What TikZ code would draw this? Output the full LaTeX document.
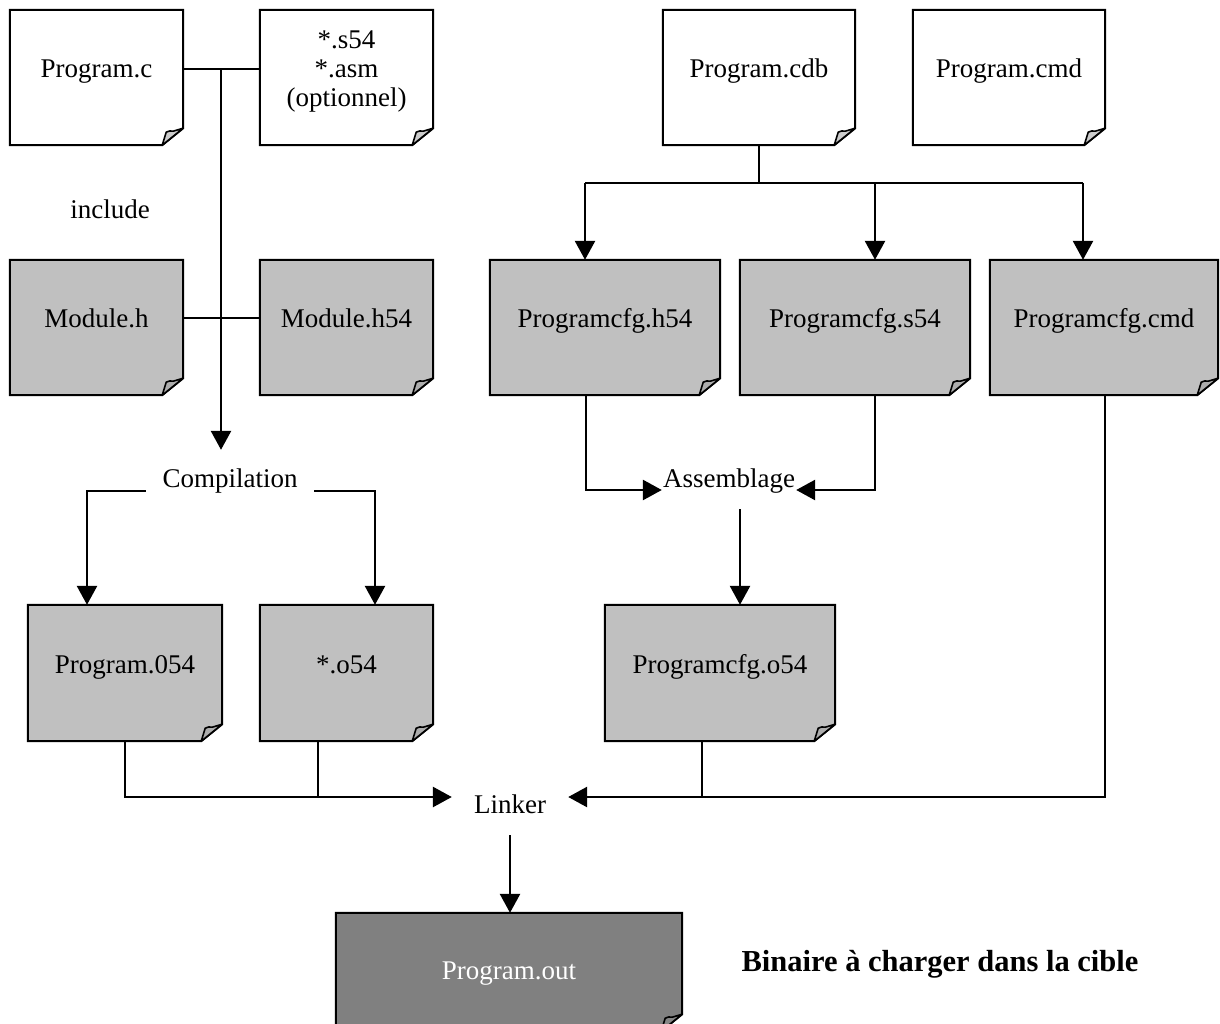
\documentclass[tikz,border=0pt]{standalone}
\usepackage{fontspec}
\setmainfont{Liberation Serif}
\usetikzlibrary{arrows.meta,calc}
\pgfdeclarelayer{bg}
\pgfsetlayers{bg,main}
\definecolor{pagegray}{HTML}{C0C0C0}
\definecolor{outgray}{HTML}{808080}

\tikzset{
  txt/.style={font=\fontsize{27}{29}\selectfont},
  doc/.style={txt, inner sep=0pt, minimum height=135pt, minimum width=173pt,
              text height=0pt, text depth=0pt},
  tag/.style={txt, inner ysep=0pt, text height=0pt},
  wire/.style={line width=2.7pt},
  arr/.style={wire, -{Triangle[length=19pt,width=20pt]}},
}

% dog-eared sheet behind a doc node: #1 node name, #2 fill colour, #3 curl colour
\newcommand\sheet[3]{%
  \begin{pgfonlayer}{bg}
    \path[fill=#2, draw=black, line width=2pt]
      (#1.north west) -- (#1.north east) -- ($(#1.south east)+(0,-17)$)
      -- ($(#1.south east)+(-21,0)$) -- (#1.south west) -- cycle;
    \begin{scope}[shift={(#1.south east)}]
      \path[fill=#3, draw=black, line width=1.6pt, line join=round]
        (-21,0) -- (-17,-13) .. controls (-15,-15) and (-12,-14) .. (-10,-14)
        -- (0,-17) -- cycle;
    \end{scope}
  \end{pgfonlayer}}

\begin{document}
\begin{tikzpicture}[x=1pt, y=-1pt]
\useasboundingbox (0,0) rectangle (1220,1024);
\begin{pgfonlayer}{bg}
  \fill[white] (0,0) rectangle (1220,1024);
\end{pgfonlayer}

% sources
\node[doc] (progc) at (96.5,77.5) {Program.c};
\node[doc] (asmsrc) at (346.5,77.5)
  {\begin{tabular}{@{}c@{}}{*}.s54\\{*}.asm\\(optionnel)\end{tabular}};
\node[doc, minimum width=192pt] (cdb) at (759,77.5) {Program.cdb};
\node[doc, minimum width=192pt] (cmd) at (1009,77.5) {Program.cmd};

% headers and generated configuration files
\node[doc] (modh) at (96.5,327.5) {Module.h};
\node[doc] (modh54) at (346.5,327.5) {Module.h54};
\node[doc, minimum width=230pt] (cfgh) at (605,327.5) {Programcfg.h54};
\node[doc, minimum width=230pt] (cfgs) at (855,327.5) {Programcfg.s54};
\node[doc, minimum width=228pt] (cfgcmd) at (1104,327.5) {Programcfg.cmd};

% object files
\node[doc, minimum width=194pt, minimum height=136pt] (pobj) at (125,673) {Program.054};
\node[doc, minimum height=136pt] (obj) at (346.5,673) {*.o54};
\node[doc, minimum width=230pt, minimum height=136pt] (cfgobj) at (720,673) {Programcfg.o54};

% executable
\node[doc, minimum width=346pt, minimum height=118pt, text height=14pt, text=white]
  (out) at (509,972) {Program.out};

\sheet{progc}{white}{black!20}
\sheet{asmsrc}{white}{black!20}
\sheet{cdb}{white}{black!20}
\sheet{cmd}{white}{black!20}
\sheet{modh}{pagegray}{pagegray!90!black}
\sheet{modh54}{pagegray}{pagegray!90!black}
\sheet{cfgh}{pagegray}{pagegray!90!black}
\sheet{cfgs}{pagegray}{pagegray!90!black}
\sheet{cfgcmd}{pagegray}{pagegray!90!black}
\sheet{pobj}{pagegray}{pagegray!90!black}
\sheet{obj}{pagegray}{pagegray!90!black}
\sheet{cfgobj}{pagegray}{pagegray!90!black}
\sheet{out}{outgray}{outgray!95!white}

% step labels
\node[tag, text depth=0pt] (incl) at (110,219) {include};
\node[tag, text depth=8pt, inner xsep=16.5pt, inner ysep=37pt] (comp) at (230,491) {Compilation};
\node[tag, text depth=6pt, inner xsep=1pt, inner ysep=16pt] (asm) at (729,490) {Assemblage};
\node[tag, text height=32pt, text depth=0pt, inner xsep=22pt, inner ysep=22pt] (lnk) at (510,797) {Linker};

\node[font=\fontsize{30.5}{35}\selectfont\bfseries, inner sep=0pt, text height=0pt, text depth=0pt]
  (note) at (940,971) {Binaire à charger dans la cible};

% compilation inputs
\coordinate (jc) at (221,69);
\coordinate (jh) at (221,318);
\draw[wire] (progc.east |- jc) -- (asmsrc.west |- jc);
\draw[wire] (modh.east |- jh) -- (modh54.west |- jh);
\draw[arr] (jc) -- (jc |- comp.north);

% compilation outputs
\coordinate (cl) at (87,0);
\coordinate (cr) at (375,0);
\draw[arr] (comp.west) -| (cl |- pobj.north);
\draw[arr] (comp.east) -| (cr |- obj.north);

% configuration tool outputs
\coordinate (tl) at (585,183);
\coordinate (tm) at (875,183);
\coordinate (tr) at (1083,183);
\draw[wire] (cdb.south) -- (cdb.south |- tl);
\draw[wire] (tl) -- (tr);
\draw[arr] (tl) -- (tl |- cfgh.north);
\draw[arr] (tm) -- (tm |- cfgs.north);
\draw[arr] (tr) -- (tr |- cfgcmd.north);

% assembly
\coordinate (ah) at (586,0);
\coordinate (as) at (875,0);
\coordinate (ao) at (740,0);
\draw[arr] (ah |- cfgh.south) |- (asm.west);
\draw[arr] (as |- cfgs.south) |- (asm.east);
\draw[arr] (ao |- asm.south) -- (ao |- cfgobj.north);

% link
\coordinate (l1) at (125,0);
\coordinate (l2) at (318,0);
\coordinate (l3) at (702,0);
\coordinate (l4) at (1105,0);
\draw[arr] (l1 |- pobj.south) |- (lnk.west);
\draw[wire] (l2 |- obj.south) -- (l2 |- lnk.west);
\draw[arr] (l4 |- cfgcmd.south) |- (lnk.east);
\draw[wire] (l3 |- cfgobj.south) -- (l3 |- lnk.east);
\draw[arr] (lnk.south) -- (lnk.south |- out.north);
\end{tikzpicture}
\end{document}
